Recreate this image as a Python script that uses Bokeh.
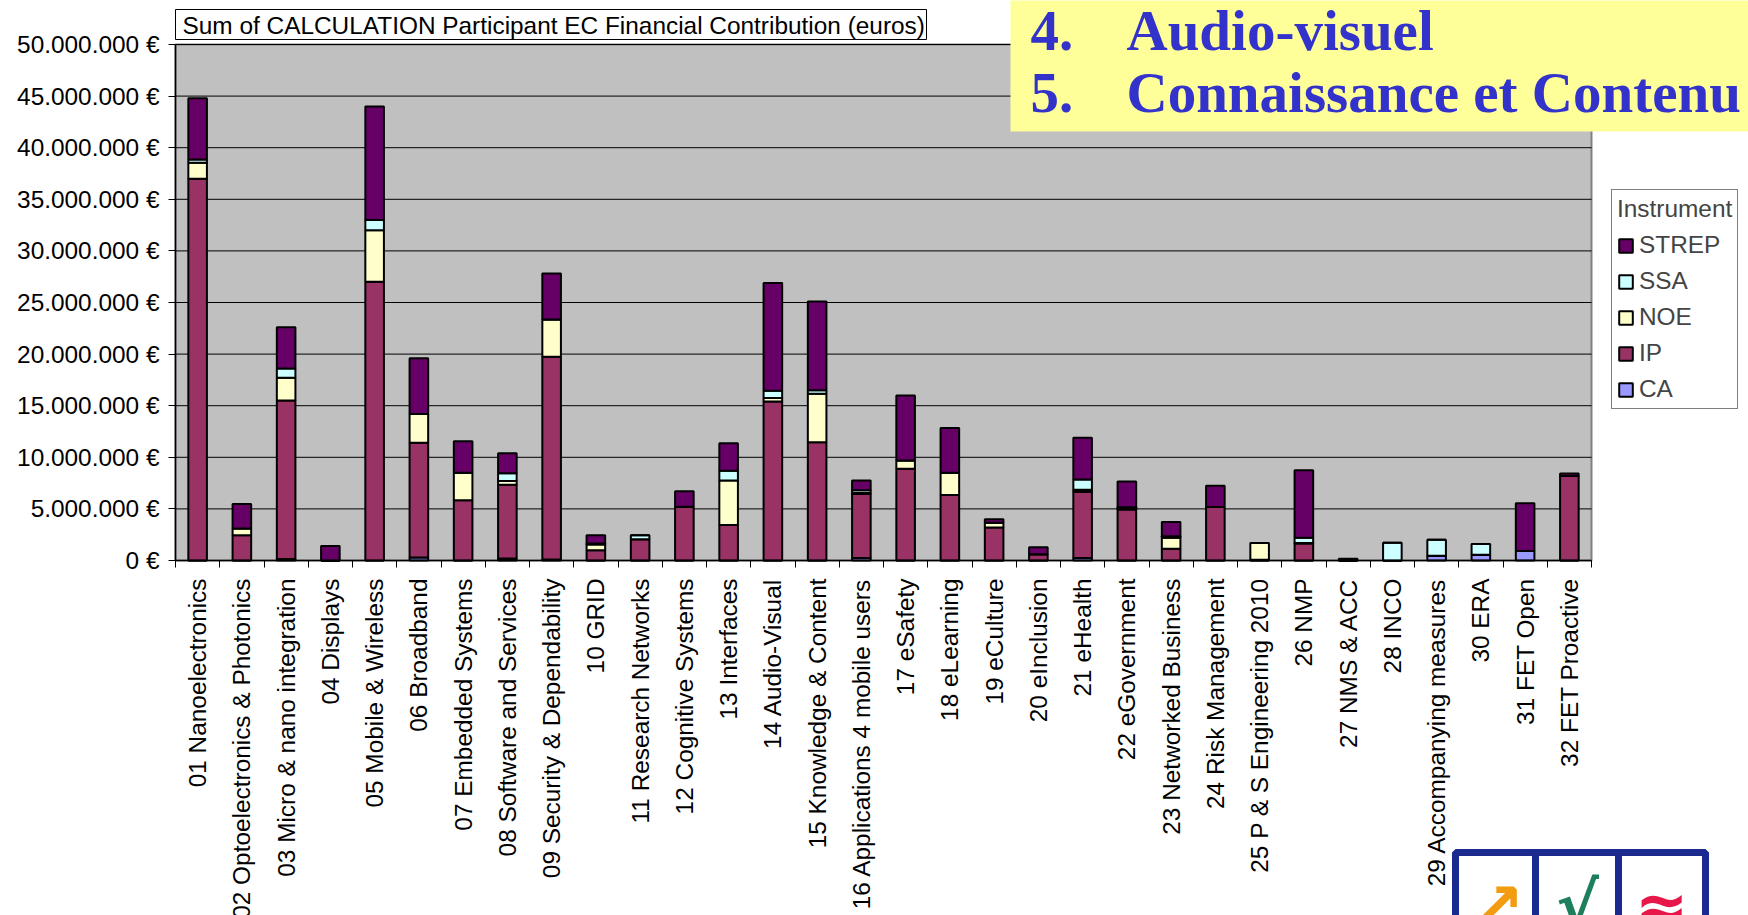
import math
from bokeh.plotting import figure
from bokeh.models import (Range1d, FixedTicker, Legend, LegendItem, Label,
                          BoxAnnotation, ColumnDataSource, LinearAxis)
from bokeh.embed import file_html
from bokeh.resources import INLINE

# ---------------- data (millions of euros) ----------------
categories = ["01 Nanoelectronics", "02 Optoelectronics & Photonics",
              "03 Micro & nano integration", "04 Displays", "05 Mobile & Wireless",
              "06 Broadband", "07 Embedded Systems", "08 Software and Services",
              "09 Security & Dependability", "10 GRID", "11 Research Networks",
              "12 Cognitive Systems", "13 Interfaces", "14 Audio-Visual",
              "15 Knowledge & Content", "16 Applications 4 mobile users", "17 eSafety",
              "18 eLearning", "19 eCulture", "20 eInclusion", "21 eHealth",
              "22 eGovernment", "23 Networked Business", "24 Risk Management",
              "25 P & S Engineering 2010", "26 NMP", "27 NMS & ACC", "28 INCO",
              "29 Accompanying measures", "30 ERA", "31 FET Open", "32 FET Proactive"]

CA = [0, 0, 0.15, 0, 0, 0.3, 0, 0.2, 0.1, 0, 0, 0, 0, 0, 0, 0.25, 0, 0, 0, 0,
      0.25, 0, 0, 0, 0, 0, 0, 0, 0.45, 0.55, 0.92, 0]
IP = [37.0, 2.45, 15.35, 0, 27.0, 11.1, 5.85, 7.15, 19.65, 1.0, 2.05, 5.2, 3.45,
      15.4, 11.45, 6.2, 8.9, 6.35, 3.2, 0.6, 6.4, 4.95, 1.15, 5.18, 0.08, 1.65,
      0, 0, 0, 0, 0, 8.18]
NOE = [1.54, 0.65, 2.2, 0, 5.0, 2.8, 2.65, 0.35, 3.6, 0.55, 0, 0, 4.3, 0.35, 4.7,
       0.1, 0.8, 2.15, 0.45, 0, 0.2, 0.1, 1.05, 0, 1.62, 0.05, 0, 0, 0, 0, 0, 0]
SSA = [0.32, 0, 0.9, 0, 1.0, 0, 0, 0.75, 0, 0.1, 0.4, 0, 0.95, 0.7, 0.35, 0.25, 0,
       0, 0, 0, 1.0, 0.1, 0.15, 0, 0, 0.5, 0, 1.72, 1.55, 1.05, 0, 0]
STREP = [5.94, 2.38, 4.0, 1.4, 11.0, 5.4, 3.05, 1.95, 4.45, 0.8, 0, 1.5, 2.65,
         10.45, 8.6, 0.95, 6.3, 4.35, 0.35, 0.68, 4.05, 2.5, 1.38, 2.07, 0, 6.55,
         0.18, 0, 0, 0, 4.63, 0.25]

series_names = ["CA", "IP", "NOE", "SSA", "STREP"]
series_colors = ["#9999FF", "#993366", "#FFFFCC", "#CCFFFF", "#660066"]
y_ticks_m = [0, 5, 10, 15, 20, 25, 30, 35, 40, 45, 50]

title_text = "Sum of CALCULATION Participant EC Financial Contribution (euros)"
legend_title = "Instrument"

# ---------------- layout geometry (pixels) ----------------
W, H = 1748, 915
L, R, T, B = 175, 1591, 44, 560   # plot-area box
N = len(categories)
YMAX = 50e6


def sx(px):
    return (px - L) / (R - L) * N


def sy(py):
    return (B - py) / (B - T) * YMAX


FONT = "Liberation Sans"
FS = "24.4px"

src = ColumnDataSource(dict(
    x=[i + 0.5 for i in range(N)],
    CA=[v * 1e6 for v in CA], IP=[v * 1e6 for v in IP], NOE=[v * 1e6 for v in NOE],
    SSA=[v * 1e6 for v in SSA], STREP=[v * 1e6 for v in STREP],
))

p = figure(width=W, height=H, x_range=Range1d(sx(0), sx(W)),
           y_range=Range1d(sy(H), sy(0)),
           output_backend="svg", toolbar_location=None,
           x_axis_location=None, y_axis_location=None,
           min_border=0, min_border_left=0, min_border_right=0,
           min_border_top=0, min_border_bottom=0,
           background_fill_color="white", border_fill_color="white")
p.outline_line_color = None
p.grid.visible = False

# plot area background
p.quad(left=[0], right=[N], bottom=[0], top=[YMAX], fill_color="#C0C0C0",
       line_color="#808080", line_width=2)

# horizontal gridlines
yt = [v * 1e6 for v in y_ticks_m]
p.segment(x0=[0] * len(yt), x1=[N] * len(yt), y0=yt, y1=yt,
          line_color="black", line_width=1)

renderers = p.vbar_stack(series_names, x="x", width=0.42, source=src,
                         fill_color=series_colors, line_color="black", line_width=2)

# y axis
yax = LinearAxis(fixed_location=0, bounds=(0, YMAX))
yax.ticker = FixedTicker(ticks=yt)
yax.major_label_overrides = {t: (f"{t:,.0f}".replace(",", ".") + " €") for t in yt}
yax.major_label_text_font = FONT
yax.major_label_text_font_size = FS
yax.major_label_text_color = "black"
yax.major_label_standoff = 9
yax.major_tick_in = 0
yax.major_tick_out = 7
yax.minor_tick_line_color = None
yax.axis_line_color = "black"
yax.axis_line_width = 1.5
yax.major_tick_line_color = "black"
p.add_layout(yax, "left")

# x axis: line and ticks at category boundaries
xax = LinearAxis(fixed_location=0, bounds=(0, N))
xax.ticker = FixedTicker(ticks=list(range(N + 1)))
xax.major_label_overrides = {i: "" for i in range(N + 1)}
xax.major_tick_in = 0
xax.major_tick_out = 7
xax.minor_tick_line_color = None
xax.axis_line_color = "black"
xax.axis_line_width = 1.5
xax.major_tick_line_color = "black"
p.add_layout(xax, "below")

# x axis: category names (vertical, reading upward)
cax = LinearAxis(fixed_location=0)
cax.ticker = FixedTicker(ticks=[i + 0.5 for i in range(N)])
cax.major_label_overrides = {i + 0.5: c for i, c in enumerate(categories)}
cax.major_label_orientation = math.pi / 2
cax.major_label_text_font = FONT
cax.major_label_text_font_size = FS
cax.major_label_text_color = "black"
cax.major_label_standoff = 12
cax.major_tick_line_color = None
cax.minor_tick_line_color = None
cax.axis_line_color = None
p.add_layout(cax, "below")

# title box
p.add_layout(BoxAnnotation(left=sx(175), right=sx(926), top=sy(9), bottom=sy(39),
                           fill_color="white", fill_alpha=1, line_color="black",
                           line_alpha=1, line_width=1))
p.add_layout(Label(x=sx(182), y=sy(25), text=title_text, text_baseline="middle",
                   text_font=FONT, text_font_size=FS, text_color="black"))

# yellow overlay box
p.add_layout(BoxAnnotation(left=sx(1010), right=sx(1760), top=sy(-10), bottom=sy(131),
                           fill_color="#FFFF99", fill_alpha=1, line_color=None))
for txt, px, py in [("4.", 1030, 30), ("Audio-visuel", 1126, 30),
                    ("5.", 1030, 92), ("Connaissance et Contenu", 1126, 92)]:
    p.add_layout(Label(x=sx(px), y=sy(py), text=txt, text_baseline="alphabetic",
                       text_font="Liberation Serif", text_font_style="bold",
                       text_font_size="57px", text_color="#3333CC"))

# legend
items = [LegendItem(label=n, renderers=[r]) for n, r in zip(series_names, renderers)]
legend = Legend(items=items[::-1], title=legend_title, location=(1611, H - 409))
legend.title_text_font = FONT
legend.title_text_font_size = FS
legend.title_text_font_style = "normal"
legend.title_standoff = 8
legend.label_text_font = FONT
legend.label_text_font_size = FS
legend.glyph_width = 17
legend.glyph_height = 17
legend.label_standoff = 5
legend.spacing = 8
legend.padding = 5
legend.margin = 0
legend.border_line_color = "black"
legend.border_line_width = 1
legend.background_fill_color = "white"
legend.background_fill_alpha = 1
p.add_layout(legend)
# separator under the legend title
p.add_layout(BoxAnnotation(left=sx(1611), right=sx(1736), top=sy(225.5), bottom=sy(226.5),
                           fill_color="black", fill_alpha=1, line_color=None))

# logo (approximation)
for l_, r_ in [(1455, 1535), (1535, 1618), (1618, 1705)]:
    p.add_layout(BoxAnnotation(left=sx(l_), right=sx(r_), top=sy(852), bottom=sy(960),
                               fill_color="white", fill_alpha=1,
                               line_color="#1A2A8F", line_alpha=1, line_width=7))
for txt, px, col in [("↗", 1497, "#F39C12"), ("√", 1577, "#1E7F5C"), ("≈", 1661, "#E8174A")]:
    p.add_layout(Label(x=sx(px), y=sy(905), text=txt, text_align="center",
                       text_baseline="middle", text_font="DejaVu Sans",
                       text_font_style="bold", text_font_size="64px", text_color=col))

open("out.html", "w").write(file_html(p, INLINE))
